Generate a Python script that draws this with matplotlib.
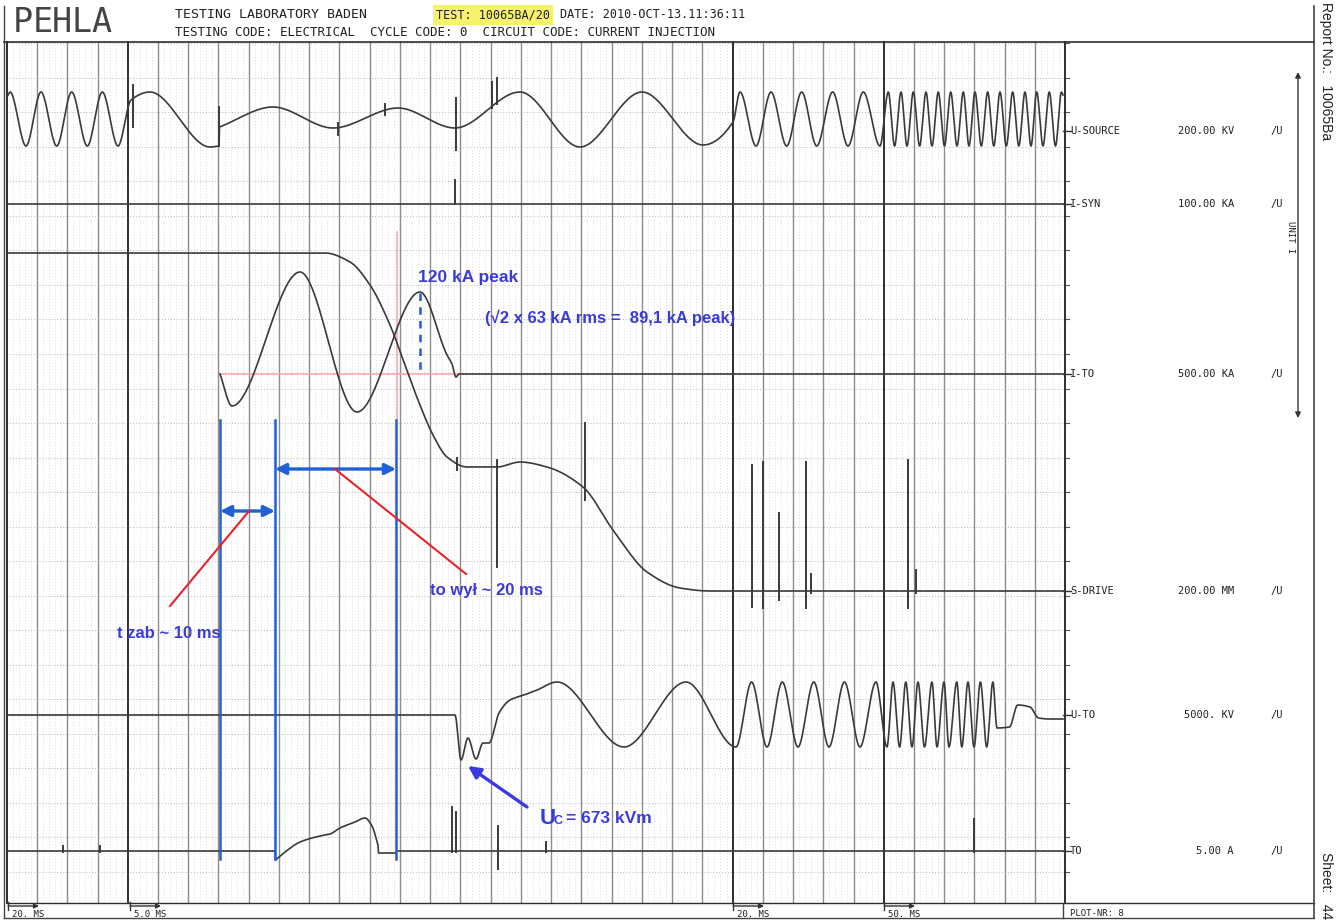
import matplotlib.pyplot as plt
import numpy as np

# ---- values (pixel units of the sheet) ----
col_lines = [6.8 + 30.24 * k for k in range(36)]
heavy_cols = [4, 24, 29]
row_lines = [43.5 + 34.5 * r for r in range(25)]

trace_names = ["U-SOURCE", "I-SYN", "I-TO", "S-DRIVE", "U-TO", "TO"]
trace_levels = [131, 204, 374, 591, 715, 851]
trace_scales = ["200.00 KV", "100.00 KA", "500.00 KA", "200.00 MM", "5000. KV", "5.00 A"]

# each trace = list of segments, each segment = (x knots, y knots)
u_source = [
    ([8, 10, 26, 41, 56.7, 71.7, 87.3, 102.3, 118, 131, 150, 210, 219],
     [95, 92, 146, 92, 146, 92, 146, 92, 146, 100, 92, 147, 146]),
    ([219.5, 273, 333, 398, 455, 520, 580, 642, 703, 733,
      740, 756, 771, 786.7, 801.7, 816.7, 832.7, 848, 863.3, 880,
      888.3, 894.6, 901, 907, 913.3, 919.6, 926, 932, 938.3, 944.5, 950.7, 957,
      963.3, 969, 975, 981.3, 987.7, 993.8, 1000, 1006.3, 1012.7, 1018.8, 1025,
      1031, 1036.7, 1043, 1049.3, 1055.5, 1061.5, 1063],
     [127, 107, 128, 108, 128, 92, 147, 92, 145, 122,
      92, 146, 92, 146, 92, 146, 92, 146, 92, 146,
      92, 146, 92, 146, 92, 146, 92, 146, 92, 146, 92, 146,
      92, 146, 92, 146, 92, 146, 92, 146, 92, 146, 92,
      146, 92, 146, 92, 146, 92, 95]),
]
u_source_spikes = [(133, 85, 127), (219, 107, 146), (338, 123, 135), (385, 104, 115),
                   (456, 98, 150), (492, 82, 108), (497, 78, 104)]

i_syn = [([8, 1063], [204, 204])]
i_syn_spikes = [(455, 180, 204)]

i_to = [([220, 232, 300, 357, 420, 447, 452, 456, 459, 1063],
         [374, 406, 272, 412, 292, 355, 364, 377, 374, 374])]

s_drive = [([8, 325, 350, 370, 390, 405, 418, 433, 447, 467, 497, 520, 547, 583,
             613, 647, 680, 710, 1063],
            [253, 253, 262, 285, 325, 365, 400, 435, 457, 467, 467, 462, 467, 487,
             530, 572, 588, 591, 591])]
s_drive_spikes = [(457, 458, 470), (497, 460, 567), (585, 423, 500), (752, 465, 607),
                  (763, 462, 608), (779, 513, 600), (806, 462, 608), (811, 574, 593),
                  (908, 460, 608), (916, 570, 593)]

u_to = [([8, 455, 461, 468, 476, 483, 489, 499, 510, 524, 537, 557, 624, 686, 736,
          751.6, 767, 782.3, 798, 813.8, 829, 844.4, 860, 876, 887, 893, 899.6,
          905.8, 912, 918, 924.5, 932, 937, 944, 949, 956.8, 961.8, 968, 974,
          980.4, 986.7, 992.9, 997, 1009.5, 1017.7, 1030, 1038.5, 1050, 1063],
         [715, 715, 760, 738, 759, 743, 743, 713, 700, 695, 690, 682, 747, 682, 747,
          682, 747, 682, 747, 682, 747, 682, 747, 682, 747, 682, 747,
          682, 747, 682, 747, 682, 747, 682, 747, 682, 747, 682, 747,
          682, 747, 682, 728, 727, 705, 707, 718, 719, 719])]

to_trace = [
    ([8, 275], [851, 851]),
    ([275.5, 285, 300, 320, 330, 340, 355, 365, 372, 378],
     [860, 852, 842, 836, 834, 828, 822, 818, 826, 845]),
    ([378.5, 396], [853, 853]),
    ([396.5, 1063], [851, 851]),
]
to_spikes = [(63, 846, 852), (100, 846, 852), (452, 807, 852), (456, 812, 852),
             (498, 826, 869), (546, 842, 852), (974, 819, 852)]

timebase_x = [8, 130, 733, 884]
timebase_txt = ["20. MS", "5.0 MS", "20. MS", "50. MS"]

marker_x = [220, 275, 396]


def smooth(xk, yk, step=0.4):
    xk = np.asarray(xk, float)
    yk = np.asarray(yk, float)
    h = np.diff(xk)
    d = np.diff(yk) / h
    m = np.zeros_like(xk)
    m[0], m[-1] = d[0], d[-1]
    for k in range(1, len(xk) - 1):
        if d[k - 1] * d[k] > 0:
            w1 = 2 * h[k] + h[k - 1]
            w2 = h[k] + 2 * h[k - 1]
            m[k] = (w1 + w2) / (w1 / d[k - 1] + w2 / d[k])
    xs, ys = [], []
    for k in range(len(h)):
        t = np.linspace(0, 1, max(int(h[k] / step), 2))
        h00 = 2 * t**3 - 3 * t**2 + 1
        h10 = t**3 - 2 * t**2 + t
        h01 = -2 * t**3 + 3 * t**2
        h11 = t**3 - t**2
        ys.append(h00 * yk[k] + h10 * h[k] * m[k] + h01 * yk[k + 1] + h11 * h[k] * m[k + 1])
        xs.append(xk[k] + t * h[k])
    return np.concatenate(xs), np.concatenate(ys)


def draw_trace(ax, segments, spikes=()):
    xs, ys = [], []
    for sx, sy in segments:
        a, b = smooth(sx, sy)
        xs.append(a)
        ys.append(b)
    ax.plot(np.concatenate(xs), np.concatenate(ys), color="#3a3a3a", lw=1.2, zorder=5)
    for x, y0, y1 in spikes:
        ax.plot([x, x], [y0, y1], color="#3a3a3a", lw=1.4, zorder=5)


fig = plt.figure(figsize=(13.38, 9.21), dpi=100)
ax = fig.add_axes([0, 0, 1, 1])
ax.set_xlim(0, 1338)
ax.set_ylim(921, 0)
ax.axis("off")

mono = "DejaVu Sans Mono"
sans = "Liberation Sans"

# grid
grid_top, grid_bot, grid_right = 42, 903, col_lines[-1]
for k in range(len(col_lines) - 1):
    for j in range(1, 5):
        x = col_lines[k] + j * 30.24 / 5
        ax.plot([x, x], [grid_top, grid_bot], color="#d2d2d2", lw=0.6,
                ls=(0, (1, 2.5)), zorder=1)
for y in row_lines:
    ax.plot([col_lines[0], grid_right], [y, y], color="#b8b8b8", lw=0.7,
            ls=(0, (1, 2)), zorder=1)
    ax.plot([grid_right, grid_right + 4], [y, y], color="#555", lw=0.8)
for k, x in enumerate(col_lines):
    if k in heavy_cols or k in (0, len(col_lines) - 1):
        ax.plot([x, x], [grid_top, grid_bot], color="#2e2e2e", lw=1.4, zorder=2)
    else:
        ax.plot([x, x], [grid_top, grid_bot], color="#8c8c8c", lw=1.0, zorder=2)
ax.plot([4, 1314], [grid_top, grid_top], color="#2e2e2e", lw=1.2)
ax.plot([col_lines[0], 1314], [grid_bot, grid_bot], color="#2e2e2e", lw=1.0)
ax.plot([1314, 1314], [6, 918], color="#444", lw=1.2)
ax.plot([1063, 1063], [grid_bot, 918], color="#444", lw=1.0)
ax.plot([4, 1314], [918, 918], color="#444", lw=1.0)
ax.plot([4, 4], [6, 918], color="#444", lw=1.0)

# header
for i, ch in enumerate("PEHLA"):
    ax.text(13 + i * 19.5, 22, ch, family=mono, fontsize=24, color="#444",
            ha="left", va="center")
ax.text(175, 15, "TESTING LABORATORY BADEN", family=mono, fontsize=9.5,
        color="#222", va="center")
ax.text(436, 15, "TEST: 10065BA/20", family=mono, fontsize=8.5, color="#222",
        va="center", bbox=dict(facecolor="#f7f26c", edgecolor="none", pad=2.5))
ax.text(560, 15, "DATE: 2010-OCT-13.11:36:11", family=mono, fontsize=8.5,
        color="#222", va="center")
ax.text(175, 33, "TESTING CODE: ELECTRICAL  CYCLE CODE: 0  CIRCUIT CODE: CURRENT INJECTION",
        family=mono, fontsize=9, color="#222", va="center")

# right panel
for name, lvl, sc in zip(trace_names, trace_levels, trace_scales):
    ax.plot([grid_right - 2, grid_right + 6], [lvl, lvl], color="#333", lw=1.0)
    ax.text(1070, lvl, name, family=mono, fontsize=7.5, color="#222", va="center")
    ax.text(1234, lvl, sc, family=mono, fontsize=7.5, color="#222", va="center",
            ha="right")
    ax.text(1270, lvl, "/U", family=mono, fontsize=7.5, color="#222", va="center")
ax.annotate("", xy=(1298, 72), xytext=(1298, 418),
            arrowprops=dict(arrowstyle="<|-|>", color="#333", lw=1.0,
                            mutation_scale=8, shrinkA=0, shrinkB=0))
ax.text(1290, 237, "UNIT I", family=mono, fontsize=6.5, color="#222",
        rotation=-90, ha="center", va="center",
        bbox=dict(facecolor="white", edgecolor="none", pad=1))
ax.text(1326, 2, "Report No.:   10065Ba", family=sans, fontsize=10, color="#222",
        rotation=-90, ha="center", va="top")
ax.text(1326, 919, "Sheet:   44", family=sans, fontsize=10, color="#222",
        rotation=-90, ha="center", va="bottom")

# time bases
for x, t in zip(timebase_x, timebase_txt):
    ax.annotate("", xy=(x + 31, 906), xytext=(x, 906),
                arrowprops=dict(arrowstyle="-|>", color="#333", lw=1.0,
                                mutation_scale=7, shrinkA=0, shrinkB=0))
    ax.plot([x, x], [902, 910], color="#333", lw=1.0)
    ax.text(x + 4, 914, t, family=mono, fontsize=6.5, color="#222", va="center")
ax.text(1070, 913, "PLOT-NR: 8", family=mono, fontsize=6.5, color="#222", va="center")

# traces
draw_trace(ax, u_source, u_source_spikes)
draw_trace(ax, i_syn, i_syn_spikes)
draw_trace(ax, i_to)
draw_trace(ax, s_drive, s_drive_spikes)
draw_trace(ax, u_to)
draw_trace(ax, to_trace, to_spikes)

# annotations
blue = "#1f5fd8"
ink = "#3b3bdc"
red = "#e8232b"
pink = "#f3a3aa"
ax.plot([220, 460], [374, 374], color=pink, lw=1.1, zorder=4)
ax.plot([397, 397], [232, 420], color=pink, lw=1.1, zorder=4)
for x in marker_x:
    ax.plot([x, x], [420, 859], color=blue, lw=1.8, zorder=6)
ax.annotate("", xy=(220, 511), xytext=(275, 511),
            arrowprops=dict(arrowstyle="<|-|>", color=blue, lw=2.4,
                            mutation_scale=16, shrinkA=0, shrinkB=0), zorder=7)
ax.annotate("", xy=(275, 469), xytext=(396, 469),
            arrowprops=dict(arrowstyle="<|-|>", color=blue, lw=2.4,
                            mutation_scale=16, shrinkA=0, shrinkB=0), zorder=7)
ax.plot([249, 170], [511, 606], color=red, lw=1.5, zorder=7)
ax.plot([335, 466], [469, 574], color=red, lw=1.5, zorder=7)
ax.plot([420, 420], [293, 372], color=blue, lw=1.8, ls=(0, (3, 2.5)), zorder=7)
ax.annotate("", xy=(468, 766), xytext=(527, 807),
            arrowprops=dict(arrowstyle="-|>", color="#3a3ae2", lw=2.4,
                            mutation_scale=18, shrinkA=0, shrinkB=0), zorder=7)

bold = dict(family=sans, fontweight="bold", color=ink, va="center", zorder=8)
ax.text(117, 633, "t zab ~ 10 ms", fontsize=12, **bold)
ax.text(430, 590, "to wył ~ 20 ms", fontsize=12, **bold)
ax.text(418, 277, "120 kA peak", fontsize=12.5, **bold)
ax.text(485, 318, "(\u221a2 x 63 kA rms =  89,1 kA peak)", fontsize=12, **bold)
ax.text(540, 818, "U", fontsize=16, **bold)
ax.text(554, 821, "C", fontsize=9, **bold)
ax.text(566, 818, "= 673 kVm", fontsize=12.5, **bold)

fig.savefig("out.png", dpi=100, facecolor="white")
